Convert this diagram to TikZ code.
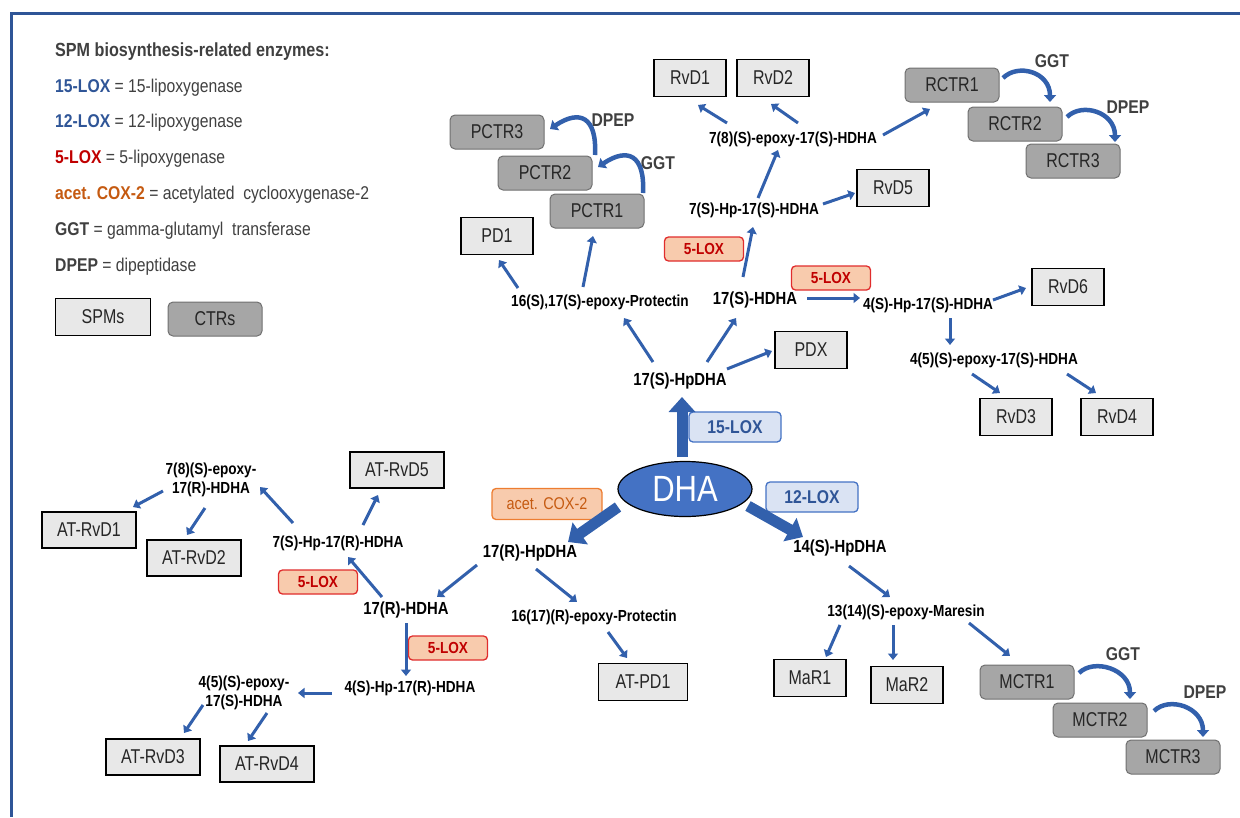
\documentclass[tikz,border=0pt]{standalone}
\usepackage{fontspec}
\setmainfont{Liberation Sans}[FakeStretch=0.85]
\newfontfamily\boxfam{Liberation Sans}[FakeStretch=0.8]
\usetikzlibrary{arrows.meta,shapes.geometric}

\definecolor{framecol}{RGB}{47,85,151}
\definecolor{arrowblue}{RGB}{50,96,172}
\definecolor{dhablue}{RGB}{68,114,196}
\definecolor{spmgray}{RGB}{232,232,232}
\definecolor{ctrgray}{RGB}{166,166,166}
\definecolor{ctrline}{RGB}{112,112,112}
\definecolor{txtgray}{RGB}{38,38,38}
\definecolor{legtxt}{RGB}{64,64,64}
\definecolor{loxblue}{RGB}{47,85,151}
\definecolor{loxbfill}{RGB}{218,227,243}
\definecolor{loxbline}{RGB}{68,114,196}
\definecolor{loxred}{RGB}{192,0,0}
\definecolor{loxrline}{RGB}{224,45,45}
\definecolor{peach}{RGB}{248,203,173}
\definecolor{coxline}{RGB}{237,125,49}
\definecolor{coxtxt}{RGB}{197,90,17}

\newcommand{\boxfont}{\boxfam\fontsize{20}{22}\selectfont}
\newcommand{\molfont}{\fontsize{17.5}{20}\selectfont\bfseries}
\newcommand{\molsmfont}{\fontsize{16}{19.5}\selectfont\bfseries}
\newcommand{\legfont}{\fontsize{18.5}{21}\selectfont}

\tikzset{
	frame/.style={draw=framecol, line width=3pt},
	spm/.style={draw=black, line width=1.4pt, fill=spmgray, text=txtgray, font=\boxfont,
		minimum width=72pt, minimum height=37pt, inner sep=2pt},
	atw/.style={minimum width=94pt, minimum height=36pt},
	ctr/.style={draw=ctrline, line width=1pt, rounded corners=5pt, fill=ctrgray, text=txtgray,
		font=\boxfont, minimum width=94pt, minimum height=34pt, inner sep=2pt},
	mol/.style={font=\molfont, inner sep=1pt},
	molsm/.style={font=\molsmfont, inner sep=1pt, align=center},
	dhanode/.style={ellipse, draw=black, line width=1.2pt, fill=dhablue, text=white,
		font=\fontsize{36.5}{40}\selectfont, minimum width=134pt, minimum height=55pt, inner sep=0pt},
	loxb/.style={draw=loxbline, line width=1.3pt, fill=loxbfill, rounded corners=4pt, text=loxblue,
		font=\fontsize{18.5}{20}\selectfont\bfseries, minimum width=92pt, minimum height=30pt},
	loxr/.style={draw=loxrline, line width=1.3pt, fill=peach, rounded corners=4pt, text=loxred,
		font=\fontsize{16}{18}\selectfont\bfseries, minimum width=79pt, minimum height=24pt},
	coxbox/.style={draw=coxline, line width=1.3pt, fill=peach, rounded corners=4pt, text=coxtxt,
		font=\fontsize{17}{19}\selectfont, minimum width=110pt, minimum height=31pt},
	enz/.style={text=legtxt, font=\fontsize{18.5}{20}\selectfont\bfseries, inner sep=0pt},
	leg/.style={anchor=west, text=legtxt, font=\legfont, inner sep=0pt},
	arr/.style={draw=arrowblue, line width=3pt, -{Triangle[length=6.5pt,width=10pt]}},
	bigarr/.style={draw=arrowblue, line width=11pt, -{Triangle[length=15pt,width=26pt]}},
	curvarr/.style={draw=arrowblue, line width=4.5pt, -{Triangle[length=7pt,width=12pt]}}
}

\begin{document}
\begin{tikzpicture}[x=1pt,y=-1pt]

	\useasboundingbox (0,0) rectangle (1240,817);
	\draw[frame] (1240,13) -- (11,13) -- (11,817);

	% legend
	\node[leg, font=\fontsize{19}{21}\selectfont\bfseries] (leghead) at (55,52) {SPM biosynthesis-related enzymes:};
	\node[leg] (leg15) at (55,88) {{\color{loxblue}\bfseries 15-LOX} = 15-lipoxygenase};
	\node[leg] (leg12) at (55,123) {{\color{loxblue}\bfseries 12-LOX} = 12-lipoxygenase};
	\node[leg] (leg5) at (55,159) {{\color{loxred}\bfseries 5-LOX} = 5-lipoxygenase};
	\node[leg] (legcox) at (55,195) {{\color{coxtxt}\bfseries acet. COX-2} = acetylated\ \ cyclooxygenase-2};
	\node[leg] (legggt) at (55,231) {{\bfseries GGT} = gamma-glutamyl\ \ transferase};
	\node[leg] (legdpep) at (55,267) {{\bfseries DPEP} = dipeptidase};
	\node[spm, minimum width=95pt] (legspm) at (103,317) {SPMs};
	\node[ctr] (legctr) at (215,319) {CTRs};

	% DHA and first products
	\node[dhanode] (dha) at (685,489) {DHA};
	\node[mol] (hpS) at (680,381) {17(S)-HpDHA};
	\node[mol] (hpR) at (530,553) {17(R)-HpDHA};
	\node[mol] (hp14) at (840,548) {14(S)-HpDHA};
	\node[loxb] (lox15) at (735,427) {15-LOX};
	\node[loxb] (lox12) at (812,497) {12-LOX};
	\node[coxbox] (cox) at (547,504) {acet. COX-2};

	% 17(S) branch
	\node[molsm] (epP) at (600,302) {16(S),17(S)-epoxy-Protectin};
	\node[mol] (hdS) at (755,300) {17(S)-HDHA};
	\node[spm] (pdx) at (811,350) {PDX};
	\node[spm] (pd1) at (497,236) {PD1};
	\node[ctr] (pctr1) at (597,211) {PCTR1};
	\node[ctr] (pctr2) at (545,173) {PCTR2};
	\node[ctr] (pctr3) at (497,132) {PCTR3};
	\node[molsm] (hp7S) at (754,210) {7(S)-Hp-17(S)-HDHA};
	\node[molsm] (ep7S) at (793,139) {7(8)(S)-epoxy-17(S)-HDHA};
	\node[spm] (rvd1) at (690,78) {RvD1};
	\node[spm] (rvd2) at (773,78) {RvD2};
	\node[spm] (rvd5) at (893,188) {RvD5};
	\node[ctr] (rctr1) at (952,85) {RCTR1};
	\node[ctr] (rctr2) at (1015,124) {RCTR2};
	\node[ctr] (rctr3) at (1073,161) {RCTR3};
	\node[molsm] (hp4S) at (928,305) {4(S)-Hp-17(S)-HDHA};
	\node[spm] (rvd6) at (1068,287) {RvD6};
	\node[molsm] (ep4S) at (994,360) {4(5)(S)-epoxy-17(S)-HDHA};
	\node[spm] (rvd3) at (1016,417) {RvD3};
	\node[spm] (rvd4) at (1117,417) {RvD4};
	\node[loxr] (lox5a) at (704,249) {5-LOX};
	\node[loxr] (lox5b) at (831,278) {5-LOX};
	\node[enz] (dpepP) at (613,120) {DPEP};
	\node[enz] (ggtP) at (658,163) {GGT};
	\node[enz] (ggtR) at (1052,61) {GGT};
	\node[enz] (dpepR) at (1128,107) {DPEP};

	% 17(R) branch
	\node[molsm] (epPR) at (594,617) {16(17)(R)-epoxy-Protectin};
	\node[spm, minimum width=89pt] (atpd1) at (643,682) {AT-PD1};
	\node[mol] (hdR) at (406,610) {17(R)-HDHA};
	\node[molsm] (hp7R) at (338,543) {7(S)-Hp-17(R)-HDHA};
	\node[molsm] (ep7R) at (211,480) {7(8)(S)-epoxy-\\17(R)-HDHA};
	\node[spm, atw] (atrvd5) at (397,470) {AT-RvD5};
	\node[spm, atw] (atrvd1) at (89,530) {AT-RvD1};
	\node[spm, atw] (atrvd2) at (194,558) {AT-RvD2};
	\node[molsm] (hp4R) at (410,688) {4(S)-Hp-17(R)-HDHA};
	\node[molsm] (ep4R) at (244,693) {4(5)(S)-epoxy-\\17(S)-HDHA};
	\node[spm, atw] (atrvd3) at (153,757) {AT-RvD3};
	\node[spm, atw] (atrvd4) at (267,764) {AT-RvD4};
	\node[loxr] (lox5c) at (318,582) {5-LOX};
	\node[loxr] (lox5d) at (448,648) {5-LOX};

	% 14(S) branch
	\node[molsm] (epM) at (906,612) {13(14)(S)-epoxy-Maresin};
	\node[spm] (mar1) at (810,678) {MaR1};
	\node[spm] (mar2) at (907,685) {MaR2};
	\node[ctr] (mctr1) at (1027,682) {MCTR1};
	\node[ctr] (mctr2) at (1100,720) {MCTR2};
	\node[ctr] (mctr3) at (1173,757) {MCTR3};
	\node[enz] (ggtM) at (1123,654) {GGT};
	\node[enz] (dpepM) at (1205,692) {DPEP};

	% big arrows out of DHA
	\draw[bigarr] ([shift={(-3,-32)}]dha.center) -- ([shift={(2,16)}]hpS.center);
	\draw[bigarr] ([shift={(-67,18)}]dha.center) -- ([shift={(38,-11)}]hpR.center);
	\draw[bigarr] ([shift={(63,17)}]dha.center) -- ([shift={(-37,-11)}]hp14.center);

	\draw[arr] ([shift={(-27,-19)}]hpS.center) -- ([shift={(24,16)}]epP.center);
	\draw[arr] ([shift={(27,-19)}]hpS.center) -- ([shift={(-19,18)}]hdS.center);
	\draw[arr] ([shift={(47,-12)}]hpS.center) -- ([shift={(-39,1)}]pdx.center);
	\draw[arr] ([shift={(-82,-14)}]epP.center) -- ([shift={(2,24)}]pd1.center);
	\draw[arr] ([shift={(-17,-15)}]epP.center) -- ([shift={(-4,25)}]pctr1.center);
	\draw[arr] ([shift={(-12,-23)}]hdS.center) -- ([shift={(-1,17)}]hp7S.center);
	\draw[arr] ([shift={(4,-12)}]hp7S.center) -- ([shift={(-15,11)}]ep7S.center);
	\draw[arr] ([shift={(69,-6)}]hp7S.center) -- ([shift={(-38,5)}]rvd5.center);
	\draw[arr] ([shift={(-66,-16)}]ep7S.center) -- ([shift={(8,27)}]rvd1.center);
	\draw[arr] ([shift={(5,-16)}]ep7S.center) -- ([shift={(-2,26)}]rvd2.center);
	\draw[arr] ([shift={(90,-4)}]ep7S.center) -- ([shift={(-22,24)}]rctr1.center);
	\draw[arr] ([shift={(52,-2)}]hdS.center) -- ([shift={(-68,-7)}]hp4S.center);
	\draw[arr] ([shift={(65,-5)}]hp4S.center) -- ([shift={(-42,1)}]rvd6.center);
	\draw[arr] ([shift={(22,13)}]hp4S.center) -- ([shift={(-44,-15)}]ep4S.center);
	\draw[arr] ([shift={(-22,14)}]ep4S.center) -- ([shift={(-16,-24)}]rvd3.center);
	\draw[arr] ([shift={(73,14)}]ep4S.center) -- ([shift={(-21,-24)}]rvd4.center);

	\draw[arr] ([shift={(6,16)}]hpR.center) -- ([shift={(-17,-15)}]epPR.center);
	\draw[arr] ([shift={(14,15)}]epPR.center) -- ([shift={(-16,-24)}]atpd1.center);
	\draw[arr] ([shift={(-53,12)}]hpR.center) -- ([shift={(31,-13)}]hdR.center);
	\draw[arr] ([shift={(-24,-13)}]hdR.center) -- ([shift={(10,14)}]hp7R.center);
	\draw[arr] ([shift={(-45,-20)}]hp7R.center) -- ([shift={(49,7)}]ep7R.center);
	\draw[arr] ([shift={(25,-18)}]hp7R.center) -- ([shift={(-19,25)}]atrvd5.center);
	\draw[arr] ([shift={(-48,11)}]ep7R.center) -- ([shift={(44,-23)}]atrvd1.center);
	\draw[arr] ([shift={(-6,28)}]ep7R.center) -- ([shift={(-7,-23)}]atrvd2.center);
	\draw[arr] ([shift={(0,13)}]hdR.center) -- ([shift={(-4,-12)}]hp4R.center);
	\draw[arr] ([shift={(-78,5)}]hp4R.center) -- ([shift={(54,0)}]ep4R.center);
	\draw[arr] ([shift={(-41,12)}]ep4R.center) -- ([shift={(31,-24)}]atrvd3.center);
	\draw[arr] ([shift={(23,20)}]ep4R.center) -- ([shift={(-19,-23)}]atrvd4.center);

	\draw[arr] ([shift={(9,18)}]hp14.center) -- ([shift={(-16,-15)}]epM.center);
	\draw[arr] ([shift={(-66,13)}]epM.center) -- ([shift={(16,-21)}]mar1.center);
	\draw[arr] ([shift={(-13,13)}]epM.center) -- ([shift={(-14,-25)}]mar2.center);
	\draw[arr] ([shift={(63,11)}]epM.center) -- ([shift={(-17,-26)}]mctr1.center);

	% GGT / DPEP steps
	\draw[curvarr] ([shift={(50,-18)}]pctr2.center) .. controls +(2,-38) and +(30,-20) .. ([shift={(53,-3)}]pctr3.center);
	\draw[curvarr] ([shift={(46,-18)}]pctr1.center) .. controls +(2,-38) and +(30,-20) .. ([shift={(53,-6)}]pctr2.center);
	\draw[curvarr] ([shift={(51,-7)}]rctr1.center) .. controls +(15,-15) and +(0,-30) .. ([shift={(35,-22)}]rctr2.center);
	\draw[curvarr] ([shift={(52,-7)}]rctr2.center) .. controls +(15,-15) and +(0,-30) .. ([shift={(42,-19)}]rctr3.center);
	\draw[curvarr] ([shift={(52,-9)}]mctr1.center) .. controls +(15,-15) and +(0,-30) .. ([shift={(30,-21)}]mctr2.center);
	\draw[curvarr] ([shift={(54,-9)}]mctr2.center) .. controls +(15,-15) and +(0,-30) .. ([shift={(30,-20)}]mctr3.center);

\end{tikzpicture}
\end{document}
